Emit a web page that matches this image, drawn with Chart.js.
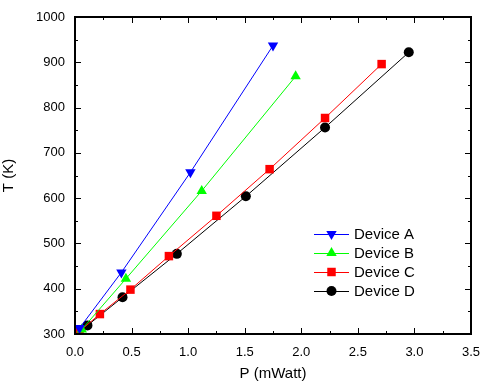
<!DOCTYPE html>
<html>
<head>
<meta charset="utf-8">
<script src="https://cdn.jsdelivr.net/npm/chart.js@4.4.0/dist/chart.umd.min.js"></script>
<style>
  html,body{margin:0;padding:0;background:#fff}
  #wrap{width:483px;height:383px}
</style>
</head>
<body>
<div id="wrap"><canvas id="c" width="483" height="383"></canvas></div>
<script>
// values
const seriesNames = ['Device A','Device B','Device C','Device D'];
const aP = [0.04, 0.41, 1.02, 1.75];
const aT = [313, 436, 657, 937];
const bP = [0.06, 0.45, 1.12, 1.95];
const bT = [310, 422, 616, 869];
const cP = [0.04, 0.22, 0.49, 0.83, 1.25, 1.72, 2.21, 2.71];
const cT = [306, 344, 398, 472, 561, 664, 777, 896];
const dP = [0.01, 0.11, 0.42, 0.90, 1.51, 2.21, 2.95];
const dT = [301, 319, 381, 477, 604, 756, 922];
const xTicks = [0, 0.5, 1.0, 1.5, 2.0, 2.5, 3.0, 3.5];
const yTicks = [300, 400, 500, 600, 700, 800, 900, 1000];

const colors = ['#0000ff','#00ff00','#ff0000','#000000'];
const styles = ['triangle','triangle','rect','circle'];
const rotations = [180,0,0,0];
const radii = [6,6,6,5];

function pts(xs, ys){ return xs.map((x,i)=>({x:x, y:ys[i]})); }
const allP = [aP,bP,cP,dP], allT = [aT,bT,cT,dT];

const datasets = seriesNames.map((name,i)=>({
  label:name,
  data:pts(allP[i], allT[i]),
  showLine:true,
  borderColor:colors[i],
  backgroundColor:colors[i],
  borderWidth:1,
  pointStyle:styles[i],
  pointRotation:rotations[i],
  pointRadius:radii[i],
  pointBorderWidth:0,
  pointBackgroundColor:colors[i],
  pointBorderColor:colors[i]
}));

// inward major/minor ticks on all four sides + frame + legend inside the plot
const frame = {
  id:'frame',
  afterDraw(chart){
    const {ctx, chartArea:a, scales:{x,y}} = chart;
    ctx.save();
    ctx.strokeStyle = '#000';
    ctx.lineWidth = 1;
    const xs = [];
    for (let v = 0; v <= 3.5001; v += 0.25) xs.push(v);
    xs.forEach((v,i)=>{
      const px = Math.round(x.getPixelForValue(v)) + 0.5;
      const len = i % 2 === 0 ? 6 : 3;
      ctx.beginPath();
      ctx.moveTo(px, a.bottom); ctx.lineTo(px, a.bottom - len);
      ctx.moveTo(px, a.top); ctx.lineTo(px, a.top + len);
      ctx.stroke();
    });
    for (let v = 300, i = 0; v <= 1000; v += 50, i++) {
      const py = Math.round(y.getPixelForValue(v)) + 0.5;
      const len = i % 2 === 0 ? 6 : 3;
      ctx.beginPath();
      ctx.moveTo(a.left, py); ctx.lineTo(a.left + len, py);
      ctx.moveTo(a.right, py); ctx.lineTo(a.right - len, py);
      ctx.stroke();
    }
    ctx.lineWidth = 2;
    ctx.strokeRect(a.left, a.top, a.right - a.left, a.bottom - a.top);

    // legend
    const lx = 314, ly0 = 234, dy = 19;
    chart.data.datasets.forEach((ds,i)=>{
      const yy = ly0 + i*dy;
      ctx.strokeStyle = ds.borderColor;
      ctx.lineWidth = 1;
      ctx.beginPath(); ctx.moveTo(lx, yy + 0.5); ctx.lineTo(lx + 35, yy + 0.5); ctx.stroke();
      ctx.fillStyle = ds.backgroundColor;
      ctx.strokeStyle = ds.backgroundColor;
      Chart.helpers.drawPoint(ctx, {pointStyle:ds.pointStyle, rotation:ds.pointRotation, radius:ds.pointRadius, borderWidth:0}, lx + 17.5, yy);
      ctx.fillStyle = '#000';
      ctx.font = '15px "Liberation Sans", Arial, sans-serif';
      ctx.textBaseline = 'middle';
      ctx.fillText(ds.label, lx + 40, yy + 1);
    });
    ctx.restore();
  }
};

new Chart(document.getElementById('c').getContext('2d'), {
  type:'scatter',
  data:{datasets},
  options:{
    responsive:false,
    animation:false,
    layout:{padding:{top:17, right:12, left:0, bottom:0}},
    plugins:{legend:{display:false}, tooltip:{enabled:false}},
    scales:{
      x:{
        type:'linear', min:0, max:3.5,
        afterBuildTicks(s){ s.ticks = xTicks.map(v=>({value:v})); },
        afterFit(s){ s.height = 49; s.paddingLeft = 0; s.paddingRight = 0; },
        grid:{display:false, drawTicks:false},
        border:{display:false},
        ticks:{padding:11, color:'#000', font:{size:13, family:'"Liberation Sans", Arial, sans-serif'},
          callback:v=>Number(v).toFixed(1)},
        title:{display:true, text:'P (mWatt)', color:'#000', padding:{top:4,bottom:0},
          font:{size:15, family:'"Liberation Sans", Arial, sans-serif'}}
      },
      y:{
        type:'linear', min:300, max:1000,
        afterBuildTicks(s){ s.ticks = yTicks.map(v=>({value:v})); },
        afterFit(s){ s.width = 75; s.paddingTop = 0; s.paddingBottom = 0; },
        grid:{display:false, drawTicks:false},
        border:{display:false},
        ticks:{padding:10, color:'#000', font:{size:13, family:'"Liberation Sans", Arial, sans-serif'},
          callback:v=>String(v)},
        title:{display:true, text:'T (K)', color:'#000', padding:{top:0,bottom:6},
          font:{size:15, family:'"Liberation Sans", Arial, sans-serif'}}
      }
    }
  },
  plugins:[frame]
});
</script>
</body>
</html>
